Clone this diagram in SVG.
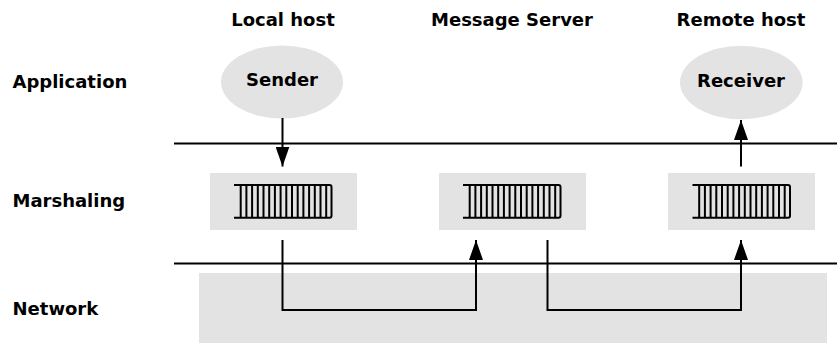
<svg xmlns="http://www.w3.org/2000/svg" xmlns:xlink="http://www.w3.org/1999/xlink" width="837" height="343" viewBox="0 0 837 343">
  <style>
    text { font-family: "DejaVu Sans", Verdana, sans-serif; font-weight: bold; font-size: 18px; fill: #000; }
    .mid { text-anchor: middle; }
    .shade { fill: #e3e3e3; stroke: none; }
    .rule { stroke: #000; stroke-width: 2; fill: none; }
    .wire { stroke: #000; stroke-width: 2; fill: none; }
    .q { stroke: #000; stroke-width: 2; fill: none; }
  </style>
  <defs>
    <marker id="head" viewBox="0 0 20 14" refX="20" refY="7" markerWidth="20" markerHeight="14" markerUnits="userSpaceOnUse" orient="auto">
      <path d="M0,0 L20,7 L0,14 Z" fill="#000"/>
    </marker>
    <!-- queue glyph: open left end, rounded right end, slot bars -->
    <g id="queue">
      <path class="q" d="M0,0 H95.5 Q97.5,0 97.5,2 V30.7 Q97.5,32.7 95.5,32.7 H0"/>
      <path class="q" d="M6.7,0 V32.7 M12.4,0 V32.7 M18.1,0 V32.7 M23.8,0 V32.7 M29.5,0 V32.7 M35.2,0 V32.7 M40.9,0 V32.7 M46.6,0 V32.7 M52.3,0 V32.7 M58,0 V32.7 M63.7,0 V32.7 M69.4,0 V32.7 M75.1,0 V32.7 M80.8,0 V32.7 M86.5,0 V32.7 M92.2,0 V32.7"/>
    </g>
  </defs>

  <!-- column headings -->
  <g id="headings">
    <text class="mid" x="283" y="26">Local host</text>
    <text class="mid" x="512" y="26">Message Server</text>
    <text class="mid" x="741" y="26">Remote host</text>
  </g>

  <!-- layer labels -->
  <g id="layers">
    <text x="12.5" y="87.5">Application</text>
    <text x="12.5" y="206.5">Marshaling</text>
    <text x="12.5" y="315">Network</text>
  </g>

  <!-- layer boundaries and network band -->
  <g id="network">
    <rect class="shade" x="199" y="273" width="628" height="70"/>
  </g>
  <line class="rule" x1="174" y1="143.5" x2="837" y2="143.5"/>
  <line class="rule" x1="174" y1="263.5" x2="837" y2="263.5"/>

  <g id="sender">
    <ellipse class="shade" cx="282" cy="82" rx="61" ry="36.5"/>
    <text class="mid" x="282" y="86">Sender</text>
  </g>
  <g id="receiver">
    <ellipse class="shade" cx="741.3" cy="82.5" rx="61.3" ry="36.7"/>
    <text class="mid" x="741" y="86.5">Receiver</text>
  </g>

  <g id="queue-local">
    <rect class="shade" x="210" y="173" width="147" height="57"/>
    <use xlink:href="#queue" href="#queue" x="234" y="185"/>
  </g>
  <g id="queue-server">
    <rect class="shade" x="439" y="173" width="147" height="57"/>
    <use xlink:href="#queue" href="#queue" x="463" y="185"/>
  </g>
  <g id="queue-remote">
    <rect class="shade" x="668" y="173" width="147" height="57"/>
    <use xlink:href="#queue" href="#queue" x="692.5" y="185"/>
  </g>

  <g id="connectors">
    <line class="wire" x1="282.5" y1="118" x2="282.5" y2="166.5" marker-end="url(#head)"/>
    <path class="wire" d="M282.5,240 V310 H476 V240" marker-end="url(#head)"/>
    <path class="wire" d="M547.5,240 V310 H741 V240" marker-end="url(#head)"/>
    <line class="wire" x1="741" y1="166.5" x2="741" y2="120" marker-end="url(#head)"/>
  </g>
</svg>
